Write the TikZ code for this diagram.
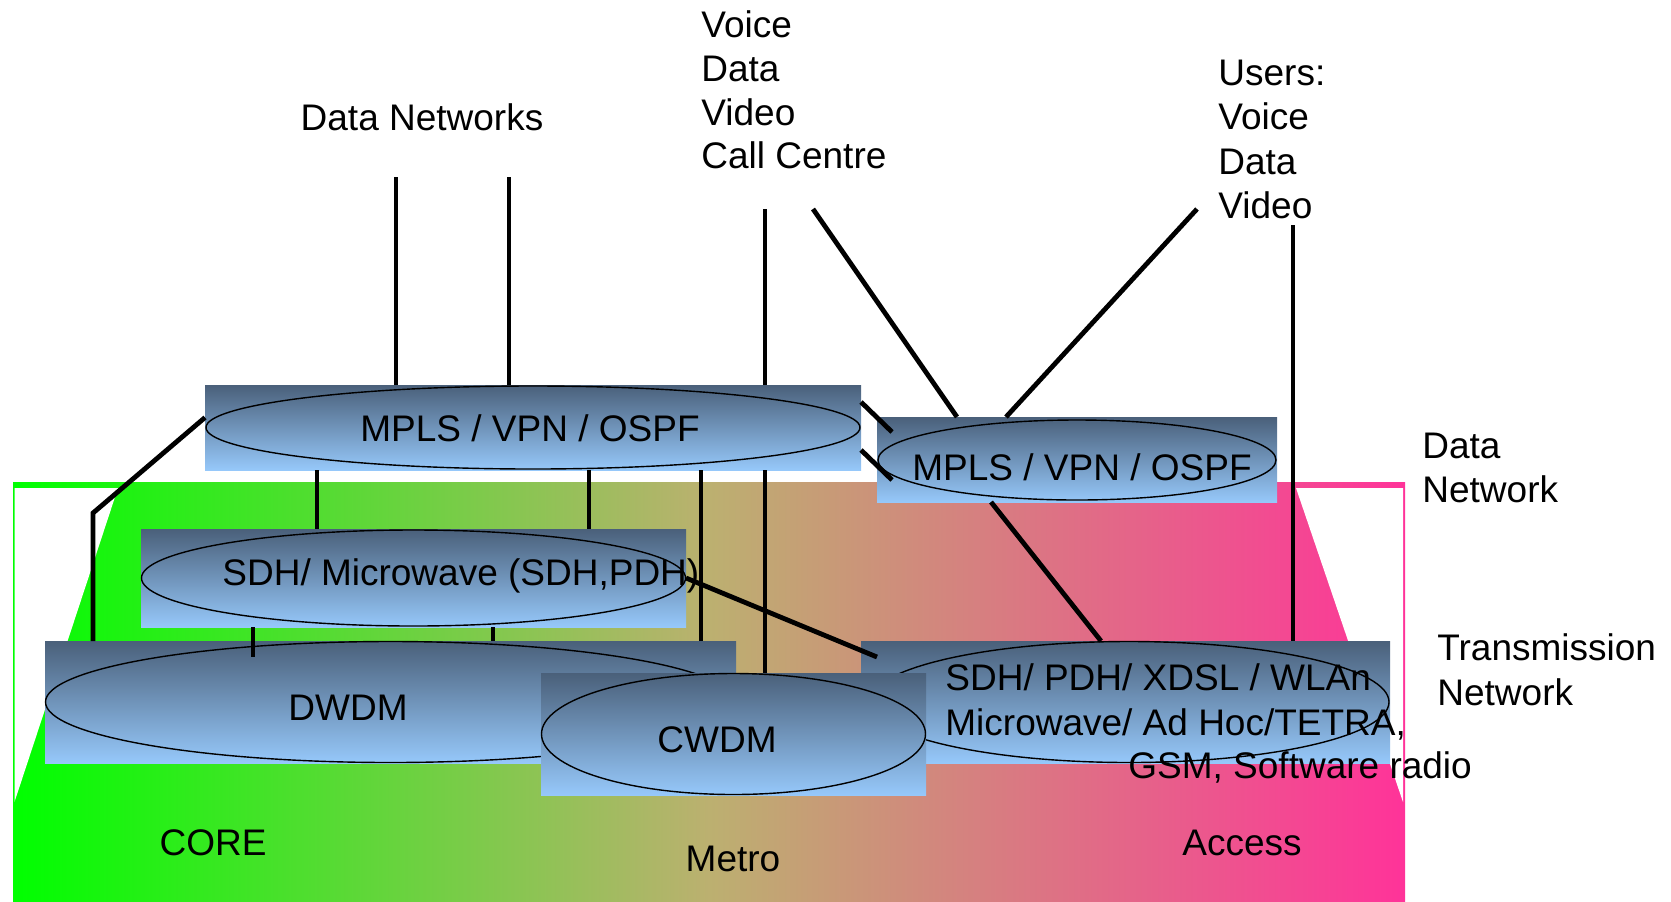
\documentclass[tikz,border=0pt]{standalone}
\usepackage{fontspec}
\setmainfont{Liberation Sans}
\begin{document}
\definecolor{bgG}{RGB}{0,255,0}
\definecolor{bgM}{RGB}{188,176,112}
\definecolor{bgP}{RGB}{255,51,153}
\definecolor{boxT}{RGB}{74,96,122}
\definecolor{boxB}{RGB}{150,200,250}
\begin{tikzpicture}[x=0.5pt,y=-0.5pt,
  layerbox/.style={rectangle, inner sep=0pt, outer sep=0pt, shade, top color=boxT, bottom color=boxB},
  ell/.style={draw=black, line width=0.7pt},
  conn/.style={draw=black, line width=2.4pt},
  txt/.style={inner sep=0pt, font=\fontsize{18.5}{22}\selectfont}]
\useasboundingbox (0,0) rectangle (1671,901);
% background
\fill[left color=bgG, right color=bgP, middle color=bgM] (13,482) rectangle (1405,901);
\fill[white] (14.5,488) -- (118,488) -- (14.5,802) -- cycle;
\fill[white] (1296,488) -- (1403,488) -- (1403,802) -- cycle;
% layer boxes
\node[layerbox, minimum width=328pt, minimum height=42.5pt] (mpls1) at (533,427.5) {};
\draw[ell] (mpls1.center) ellipse [x radius=327, y radius=41.5];
\node[layerbox, minimum width=200pt, minimum height=42.5pt] (mpls2) at (1077,459.5) {};
\draw[ell] (1077,460) ellipse [x radius=199, y radius=40];
\node[layerbox, minimum width=272.5pt, minimum height=49pt] (sdh) at (413.5,578) {};
\draw[ell] (sdh.center) ellipse [x radius=272, y radius=48];
\node[layerbox, minimum width=345.5pt, minimum height=61pt] (dwdm) at (390.5,702) {};
\draw[ell] (dwdm.center) ellipse [x radius=345, y radius=60.5];
\node[layerbox, minimum width=264.5pt, minimum height=61pt] (acc) at (1125.5,702) {};
\draw[ell] (1129,702) ellipse [x radius=260, y radius=60.5];
\node[layerbox, minimum width=192.5pt, minimum height=61pt] (cwdm) at (733.5,734) {};
\draw[ell] (cwdm.center) ellipse [x radius=192, y radius=60.5];
% helper coordinates
\coordinate (dnA) at (396,177);
\coordinate (dnB) at (509,177);
\coordinate (vcA) at (765,209);
\coordinate (vcB) at (813,209);
\coordinate (usA) at (1197,209);
\coordinate (usB) at (1293,225);
\coordinate (kA) at (93,513);
\coordinate (xA) at (317,0);
\coordinate (xB) at (589,0);
\coordinate (xC) at (701,0);
\coordinate (xD) at (253,0);
\coordinate (xE) at (493,0);
% connectors
\draw[conn] (dnA) -- (dnA |- mpls1.north);
\draw[conn] (dnB) -- (dnB |- mpls1.north);
\draw[conn] (vcA) -- (vcA |- mpls1.north);
\draw[conn] (vcA |- mpls1.south) -- (vcA |- cwdm.north);
\draw[conn] (xC |- mpls1.south) -- (xC |- dwdm.north);
\draw[conn] (xA |- mpls1.south) -- (xA |- sdh.north);
\draw[conn] (xB |- mpls1.south) -- (xB |- sdh.north);
\draw[conn] (xD |- sdh.south) -- ([yshift=-8pt]xD |- dwdm.north);
\draw[conn] (xE |- sdh.south) -- (xE |- dwdm.north);
\draw[conn] ([yshift=5pt]mpls1.west) -- (kA) -- (kA |- dwdm.north);
\draw[conn] ([yshift=12.75pt]mpls1.east) -- ++(15.5pt,-15pt);
\draw[conn] ([yshift=-11.25pt]mpls1.east) -- ++(15.5pt,-15pt);
\draw[conn] (vcB) -- ([xshift=-60pt]mpls2.north);
\draw[conn] (usA) -- ([xshift=-35.5pt]mpls2.north);
\draw[conn] (usB) -- (usB |- acc.north);
\draw[conn] ([xshift=-43pt]mpls2.south) -- ([xshift=-12.25pt]acc.north);
\draw[conn] (sdh.east) -- ([xshift=8pt,yshift=-8pt]acc.north west);
% labels in boxes
\node[txt, anchor=base] (t1) at (530,441) {MPLS / VPN / OSPF};
\node[txt, anchor=base] (t2) at (1082,480) {MPLS / VPN / OSPF};
\node[txt, anchor=base west] (t3) at (222,585) {SDH/ Microwave (SDH,PDH)};
\node[txt, anchor=base] (t4) at (348,720) {DWDM};
\node[txt, anchor=base] (t5) at (717,752) {CWDM};
\node[txt, anchor=base west] (t6) at (945,690) {SDH/ PDH/ XDSL / WLAn};
\node[txt, anchor=base west] (t7) at (945,735) {Microwave/ Ad Hoc/TETRA,};
\node[txt, anchor=base west] (t8) at (1128,778) {GSM, Software radio};
% outer labels
\node[txt, anchor=base] (dn) at (422,130) {Data Networks};
\node[txt, anchor=base west] (v1) at (701,37) {Voice};
\node[txt, anchor=base west] (v2) at (701,81) {Data};
\node[txt, anchor=base west] (v3) at (701,125) {Video};
\node[txt, anchor=base west] (v4) at (701,168) {Call Centre};
\node[txt, anchor=base west] (u1) at (1218,85) {Users:};
\node[txt, anchor=base west] (u2) at (1218,129) {Voice};
\node[txt, anchor=base west] (u3) at (1218,174) {Data};
\node[txt, anchor=base west] (u4) at (1218,218) {Video};
\node[txt, anchor=base west] (d1) at (1422,458) {Data};
\node[txt, anchor=base west] (d2) at (1422,502) {Network};
\node[txt, anchor=base west] (tr1) at (1437,660) {Transmission};
\node[txt, anchor=base west] (tr2) at (1437,705) {Network};
\node[txt, anchor=base] (core) at (213,855) {CORE};
\node[txt, anchor=base] (metro) at (733,871) {Metro};
\node[txt, anchor=base] (access) at (1242,855) {Access};
\end{tikzpicture}
\end{document}
